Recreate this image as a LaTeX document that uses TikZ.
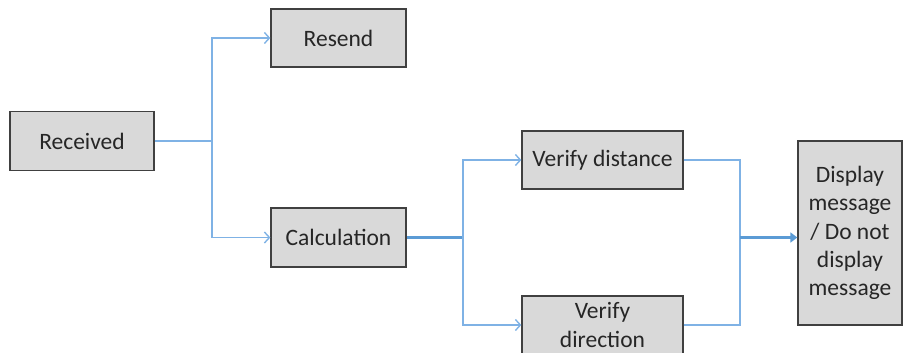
\documentclass[tikz,border=0pt]{standalone}
\usepackage{fontspec}
\setmainfont{Carlito}
\usetikzlibrary{arrows.meta}
\definecolor{boxfill}{HTML}{D9D9D9}
\definecolor{boxline}{HTML}{404040}
\definecolor{linkthin}{HTML}{7FB2E5}
\definecolor{linkthick}{HTML}{5B9BD5}
\tikzset{
  stepbox/.style={draw=boxline, fill=boxfill, line width=1.3pt, inner sep=0pt,
    align=center, font=\fontsize{23.5}{28.2}\selectfont, text=black!85},
  thinlink/.style={draw=linkthin, line width=1.7pt},
  thicklink/.style={draw=linkthick, line width=2.6pt},
  thinarrow/.style={thinlink, -{Straight Barb[length=5pt,width=11pt,line width=1.4pt]}},
  thickarrow/.style={thicklink, -{Triangle[length=7pt,width=10pt]}}
}
\begin{document}
\begin{tikzpicture}[x=1pt,y=-1pt]
\useasboundingbox (0,0) rectangle (903,353);
\begin{scope}
\clip (0,0) rectangle (903,353);
% process boxes
\node[stepbox, minimum width=144, minimum height=59] (recv)   at (82,141)  {Received};
\node[stepbox, minimum width=135, minimum height=58] (resend) at (338.5,38)  {Resend};
\node[stepbox, minimum width=135, minimum height=59] (calc)   at (338.5,237.5) {Calculation};
\node[stepbox, minimum width=161, minimum height=58] (vdist)  at (602.5,160)  {Verify distance};
\node[stepbox, minimum width=161, minimum height=58] (vdir)   at (602.5,325)  {Verify\\direction};
\node[stepbox, minimum width=104, minimum height=184] (disp)  at (850,233)    {Display\\message\\/ Do not\\display\\message};
% junction points of the connectors
\coordinate (j1) at (212,141);
\coordinate (j2) at (463,237.5);
\coordinate (j3) at (740,237.5);
% connectors
\draw[thinlink, line width=2pt] (recv.east) -- (j1);
\draw[thinarrow] (j1) |- (resend.west);
\draw[thinarrow] (j1) |- (calc.west);
\draw[thicklink] (calc.east) -- (j2);
\draw[thinarrow] (j2) |- (vdist.west);
\draw[thinarrow] (j2) |- (vdir.west);
\draw[thinlink] (vdist.east) -| (j3);
\draw[thinlink] (vdir.east) -| (j3);
\draw[thickarrow] (j3) -- (disp.west |- j3);
\end{scope}
\end{tikzpicture}
\end{document}
